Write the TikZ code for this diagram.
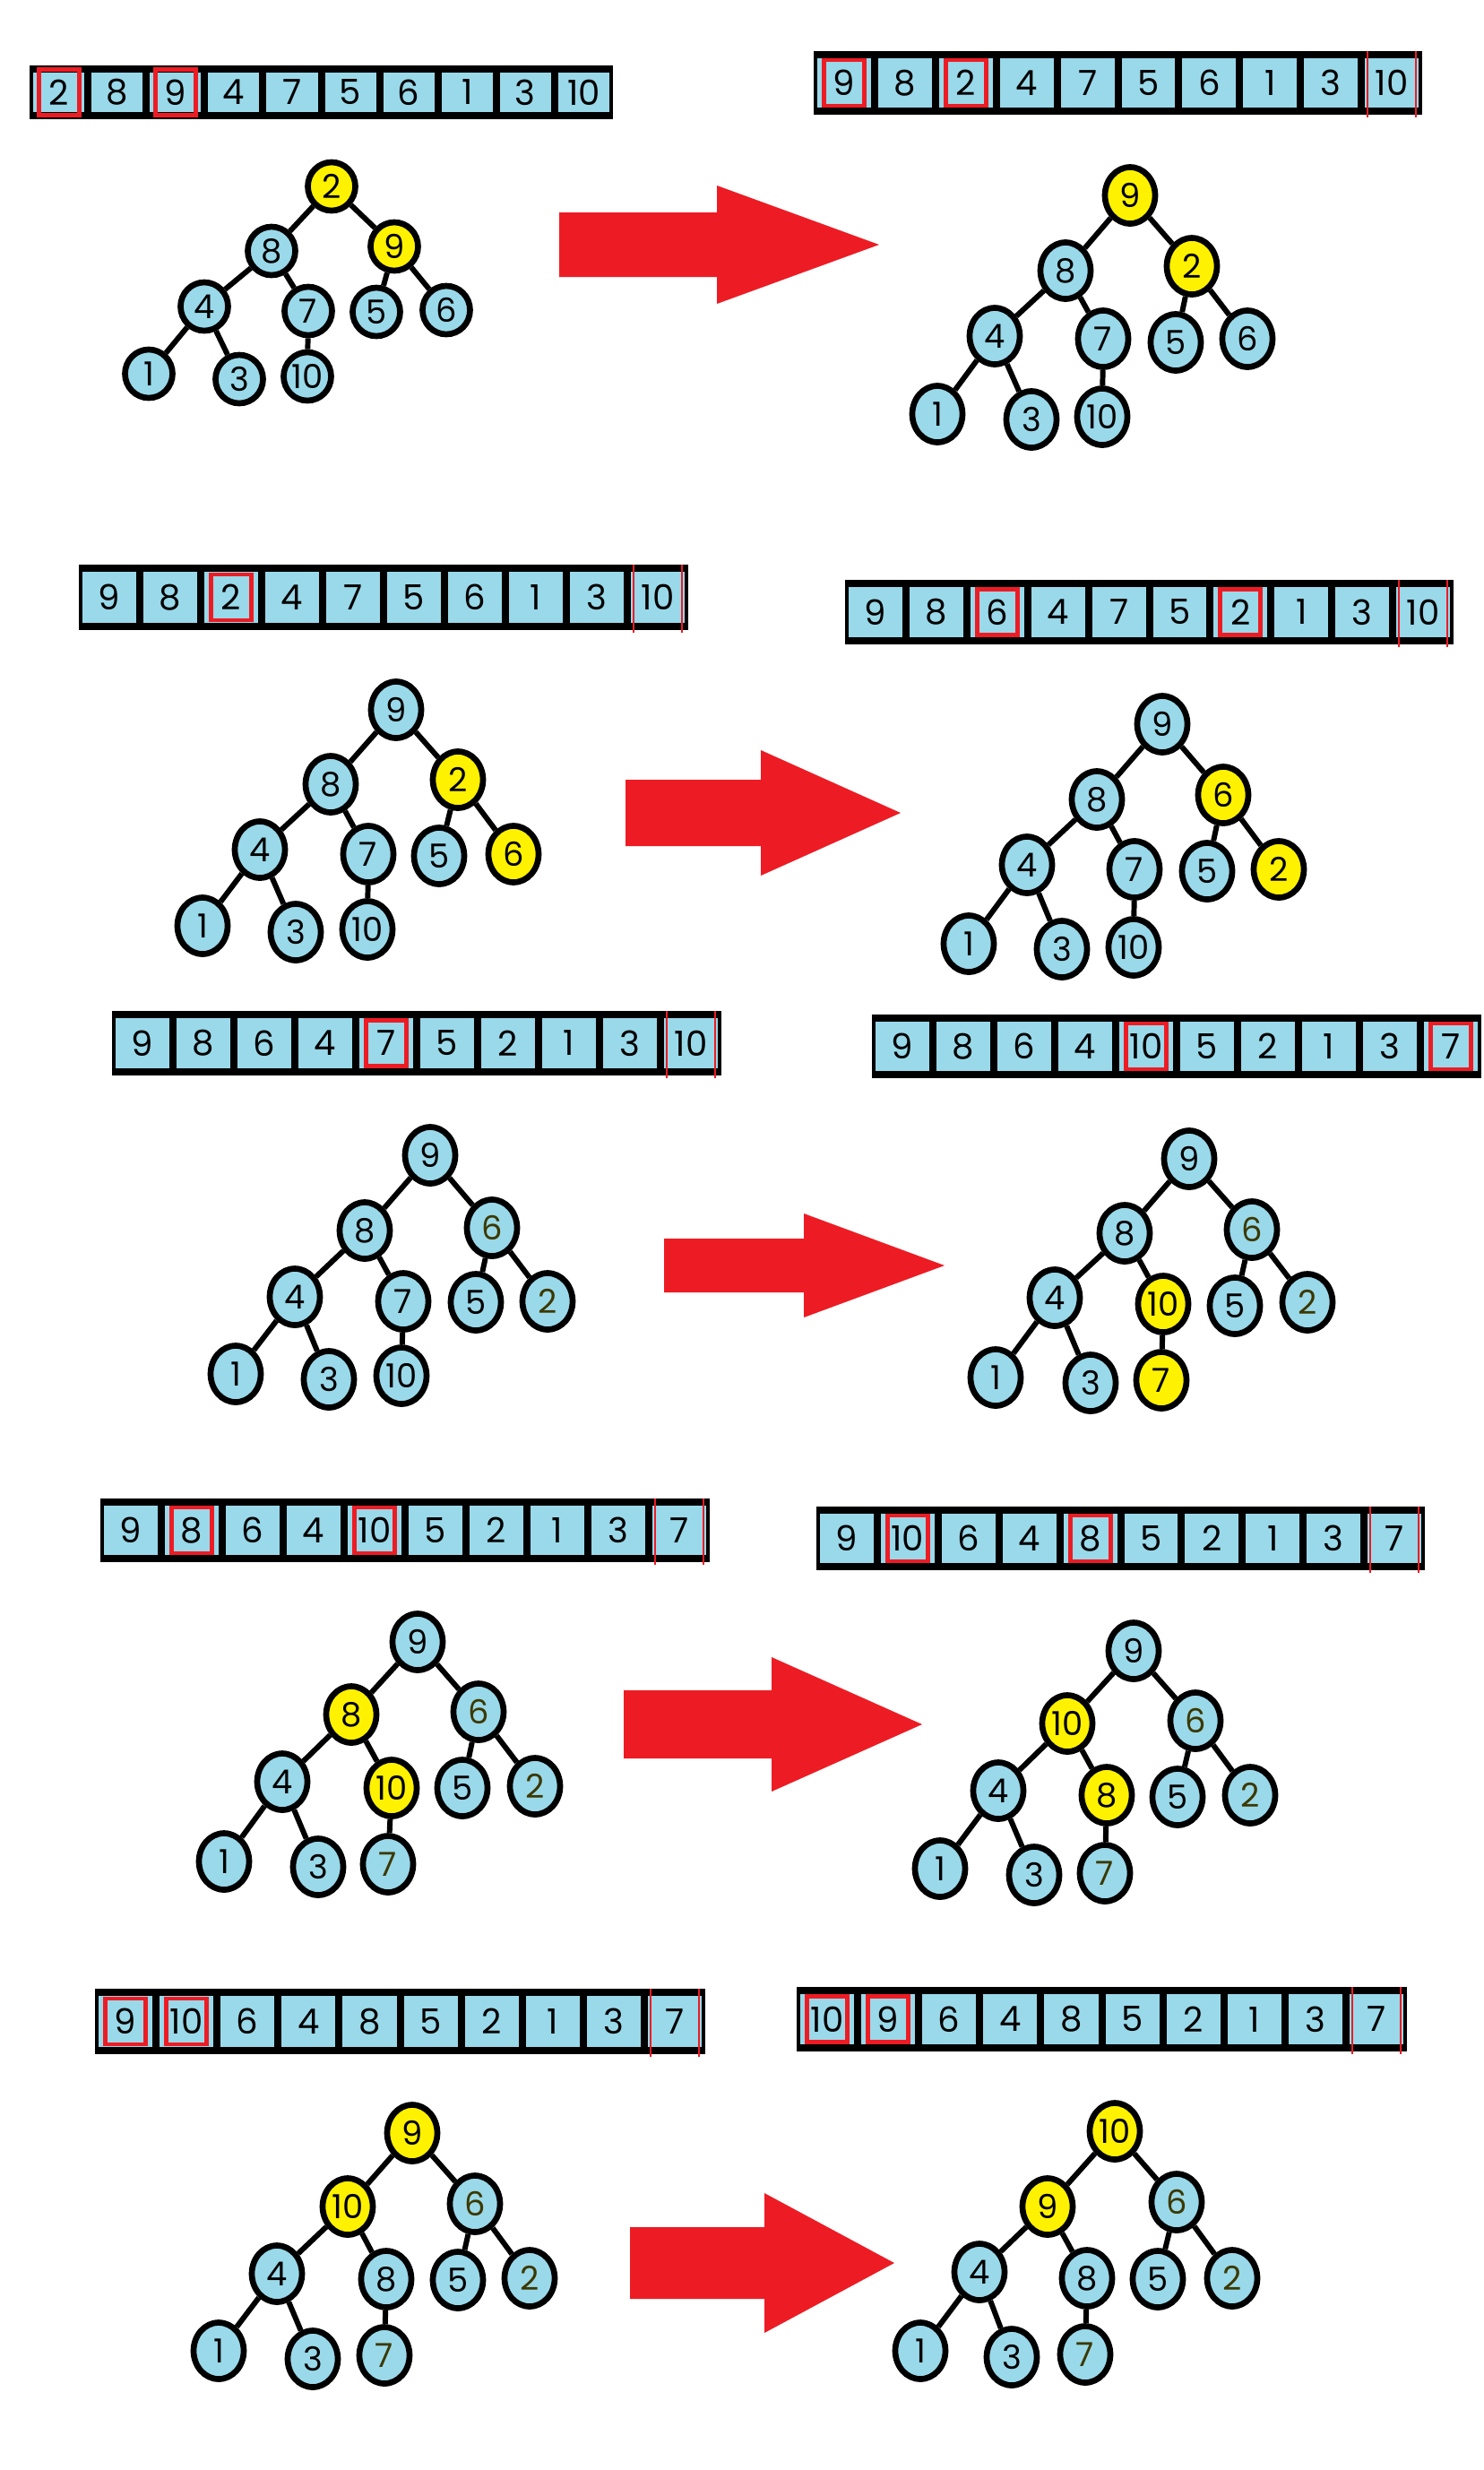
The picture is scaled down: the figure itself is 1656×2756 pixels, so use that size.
\documentclass[tikz,border=0pt]{standalone}
\usepackage{fontspec}
\setmainfont{Poppins}
\usetikzlibrary{shapes.geometric}

\definecolor{paintblue}{RGB}{153,217,234}
\definecolor{paintyellow}{RGB}{255,242,0}
\definecolor{paintred}{RGB}{237,28,36}
\definecolor{olivetext}{RGB}{60,56,0}

\tikzset{
	frame/.style={fill=black},
	cell/.style={rectangle, fill=paintblue, inner sep=0pt,
		font=\fontsize{11}{13}\selectfont},
	heapnode/.style={ellipse, draw=black, line width=1.9pt, inner sep=0pt,
		minimum width=5.6mm, minimum height=6.3mm,
		font=\fontsize{10.5}{12}\selectfont},
	cool/.style={heapnode, fill=paintblue},
	hot/.style={heapnode, fill=paintyellow},
	tint/.style={cool, text=olivetext},
	link/.style={line width=1.7pt},
	pick/.style={rectangle, draw=paintred, line width=1.4pt, inner sep=0pt,
		minimum width=4.5mm, minimum height=5.1mm},
	doneline/.style={draw=paintred, line width=0.5pt},
	swap/.style={fill=paintred}
}

% array bar: name, left, right, top, bottom, values
\newcommand{\heaparray}[6]{%
	\fill[frame] (#2,#4) rectangle (#3,#5);
	\pgfmathsetmacro{\cw}{(#3-#2)/10}
	\pgfmathsetmacro{\ch}{#5-#4}
	\foreach \v [count=\k] in {#6}
		\node[cell, minimum width={(\cw-8)*0.1mm}, minimum height={(\ch-16)*0.1mm}]
			(#1-\k) at ({#2+(\k-0.5)*\cw},{(#4+#5)/2}) {\v};
}
% red side lines of the last cell
\newcommand{\donemark}[1]{%
	\draw[doneline] ([xshift=1pt,yshift=2pt]#1.north west) -- ([xshift=1pt,yshift=-3pt]#1.south west);
	\draw[doneline] ([xshift=-1pt,yshift=2pt]#1.north east) -- ([xshift=-1pt,yshift=-3pt]#1.south east);
}
% heap tree: name, list of x/y/value/style by heap index
\newcommand{\heaptree}[2]{%
	\foreach \x/\y/\v/\s [count=\k] in {#2}
		\node[\s] (#1-\k) at (\x,\y) {\v};
	\foreach \a/\b in {1/2,1/3,2/4,2/5,3/6,3/7,4/8,4/9,5/10}
		\draw[link] (#1-\a) -- (#1-\b);
}
% block arrow: start, head base, tip, middle y, shaft half, head half
\newcommand{\swaparrow}[6]{%
	\fill[swap] (#1,#4-#5) -- (#2,#4-#5) -- (#2,#4-#6) -- (#3,#4)
		-- (#2,#4+#6) -- (#2,#4+#5) -- (#1,#4+#5) -- cycle;
}

\begin{document}
\begin{tikzpicture}[x=0.1mm, y=-0.1mm]
	\useasboundingbox (0,0) rectangle (1656,2756);

	% row 1
	\heaparray{a1}{33}{684}{73}{133}{2,8,9,4,7,5,6,1,3,10}
	\foreach \k in {1,3} \node[pick] (a1-p\k) at (a1-\k) {};
	\begin{scope}[heapnode/.append style={minimum width=5.3mm, minimum height=5.4mm}]
		\heaptree{t1}{370/208/2/hot, 303/280/8/cool, 440/275/9/hot, 228/342/4/cool,
			344/347/7/cool, 420/348/5/cool, 498/346/6/cool, 166/417/1/cool,
			267/423/3/cool, 343/420/10/cool}
	\end{scope}
	\swaparrow{624}{800}{981}{273}{36}{66}

	\heaparray{a2}{908}{1587}{57}{128}{9,8,2,4,7,5,6,1,3,10}
	\foreach \k in {1,3} \node[pick] (a2-p\k) at (a2-\k) {};
	\donemark{a2-10}
	\heaptree{t2}{1261/218/9/hot, 1189/302/8/cool, 1330/297/2/hot, 1110/375/4/cool,
		1231/378/7/cool, 1312/382/5/cool, 1392/378/6/cool, 1046/462/1/cool,
		1151/468/3/cool, 1230/465/10/cool}

	% row 2
	\heaparray{a3}{88}{768}{630}{703}{9,8,2,4,7,5,6,1,3,10}
	\node[pick] (a3-p3) at (a3-3) {};
	\donemark{a3-10}
	\heaptree{t3}{442/792/9/cool, 369/875/8/cool, 511/870/2/hot, 290/948/4/cool,
		411/953/7/cool, 490/955/5/cool, 573/953/6/hot, 226/1033/1/cool,
		330/1040/3/cool, 410/1037/10/cool}
	\swaparrow{698}{849}{1005}{907}{37}{70}

	\heaparray{a4}{943}{1622}{647}{719}{9,8,6,4,7,5,2,1,3,10}
	\foreach \k in {3,7} \node[pick] (a4-p\k) at (a4-\k) {};
	\donemark{a4-10}
	\heaptree{t4}{1297/808/9/cool, 1224/892/8/cool, 1365/887/6/hot, 1146/965/4/cool,
		1266/970/7/cool, 1347/972/5/cool, 1427/970/2/hot, 1081/1053/1/cool,
		1185/1059/3/cool, 1265/1057/10/cool}

	% row 3
	\heaparray{a5}{125}{805}{1128}{1200}{9,8,6,4,7,5,2,1,3,10}
	\node[pick] (a5-p5) at (a5-5) {};
	\donemark{a5-10}
	\heaptree{t5}{480/1289/9/cool, 407/1373/8/cool, 549/1370/6/tint, 329/1447/4/cool,
		450/1452/7/cool, 531/1453/5/cool, 611/1452/2/tint, 263/1533/1/cool,
		367/1539/3/cool, 448/1535/10/cool}
	\swaparrow{741}{897}{1054}{1412}{30}{58}

	\heaparray{a6}{973}{1653}{1132}{1203}{9,8,6,4,10,5,2,1,3,7}
	\foreach \k in {5,10} \node[pick] (a6-p\k) at (a6-\k) {};
	\heaptree{t6}{1327/1293/9/cool, 1255/1376/8/cool, 1397/1372/6/tint, 1177/1448/4/cool,
		1298/1455/10/hot, 1378/1457/5/cool, 1459/1453/2/tint, 1111/1537/1/cool,
		1217/1543/3/cool, 1296/1540/7/hot}

	% row 4
	\heaparray{a7}{112}{792}{1672}{1743}{9,8,6,4,10,5,2,1,3,7}
	\foreach \k in {2,5} \node[pick] (a7-p\k) at (a7-\k) {};
	\donemark{a7-10}
	\heaptree{t7}{466/1832/9/cool, 392/1913/8/hot, 534/1910/6/tint, 315/1988/4/cool,
		437/1995/10/hot, 516/1995/5/cool, 597/1993/2/tint, 250/2077/1/cool,
		355/2083/3/cool, 433/2080/7/tint}
	\swaparrow{696}{861}{1029}{1924}{38}{75}

	\heaparray{a8}{911}{1590}{1681}{1752}{9,10,6,4,8,5,2,1,3,7}
	\foreach \k in {2,5} \node[pick] (a8-p\k) at (a8-\k) {};
	\donemark{a8-10}
	\heaptree{t8}{1265/1842/9/cool, 1191/1923/10/hot, 1334/1920/6/tint, 1114/1998/4/cool,
		1235/2003/8/hot, 1314/2005/5/cool, 1395/2003/2/tint, 1049/2085/1/cool,
		1154/2092/3/cool, 1233/2090/7/tint}

	% row 5
	\heaparray{a9}{106}{787}{2219}{2292}{9,10,6,4,8,5,2,1,3,7}
	\foreach \k in {1,2} \node[pick] (a9-p\k) at (a9-\k) {};
	\donemark{a9-10}
	\heaptree{t9}{460/2380/9/hot, 388/2462/10/hot, 530/2459/6/tint, 309/2537/4/cool,
		431/2543/8/cool, 511/2544/5/cool, 591/2542/2/tint, 244/2623/1/cool,
		349/2632/3/cool, 429/2628/7/tint}
	\swaparrow{703}{853}{998}{2525}{40}{78}

	\heaparray{a10}{889}{1570}{2217}{2289}{10,9,6,4,8,5,2,1,3,7}
	\foreach \k in {1,2} \node[pick] (a10-p\k) at (a10-\k) {};
	\donemark{a10-10}
	\heaptree{t10}{1244/2378/10/hot, 1169/2462/9/hot, 1313/2457/6/tint, 1093/2535/4/cool,
		1213/2542/8/cool, 1292/2543/5/cool, 1375/2542/2/tint, 1027/2623/1/cool,
		1129/2630/3/cool, 1211/2627/7/tint}
\end{tikzpicture}
\end{document}
